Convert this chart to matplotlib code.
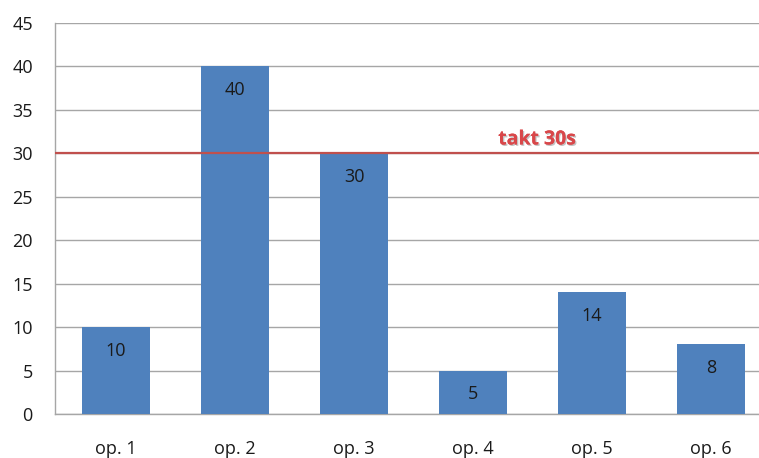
import matplotlib.pyplot as plt
import matplotlib.patheffects as pe

categories = ['op. 1', 'op. 2', 'op. 3', 'op. 4', 'op. 5', 'op. 6']
times = [10, 40, 30, 5, 14, 8]
takt = 30
takt_label = 'takt 30s'

plt.rcParams['font.family'] = ['Open Sans', 'DejaVu Sans']

fig = plt.figure(figsize=(7.59, 4.58), dpi=100)
ax = fig.add_axes([55 / 759, 1 - 414 / 458, 704 / 759, 391 / 458])

x = list(range(len(categories)))
bars = ax.bar(x, times, width=0.571, color='#4F81BD', zorder=3)

for xi, v in zip(x, times):
    ax.text(xi, v - 2.7, str(v), ha='center', va='center', fontsize=13, color='#1a1a1a', zorder=4)

ax.axhline(takt, color='#C0504D', linewidth=1.6, zorder=4)
ax.text(3.54, takt + 1.6, takt_label, ha='center', va='center', fontsize=14, fontweight='bold',
        color='#D9474A', zorder=5,
        path_effects=[pe.withSimplePatchShadow(offset=(1, -1), shadow_rgbFace='#888888', alpha=0.5), pe.Normal()])

ax.set_ylim(0, 45)
ax.set_yticks(range(0, 46, 5))
ax.set_xlim(-0.513, 5.403)
ax.set_xticks(x)
ax.set_xticklabels(categories)
ax.grid(axis='y', color='#A6A6A6', linewidth=1, zorder=0)
ax.tick_params(axis='both', length=0, labelsize=13, colors='#1a1a1a')
ax.tick_params(axis='y', pad=16)
ax.tick_params(axis='x', pad=19)

for side in ['top', 'right']:
    ax.spines[side].set_visible(False)
for side in ['left', 'bottom']:
    ax.spines[side].set_color('#A6A6A6')
    ax.spines[side].set_linewidth(1)

fig.savefig('out.png', dpi=100)
